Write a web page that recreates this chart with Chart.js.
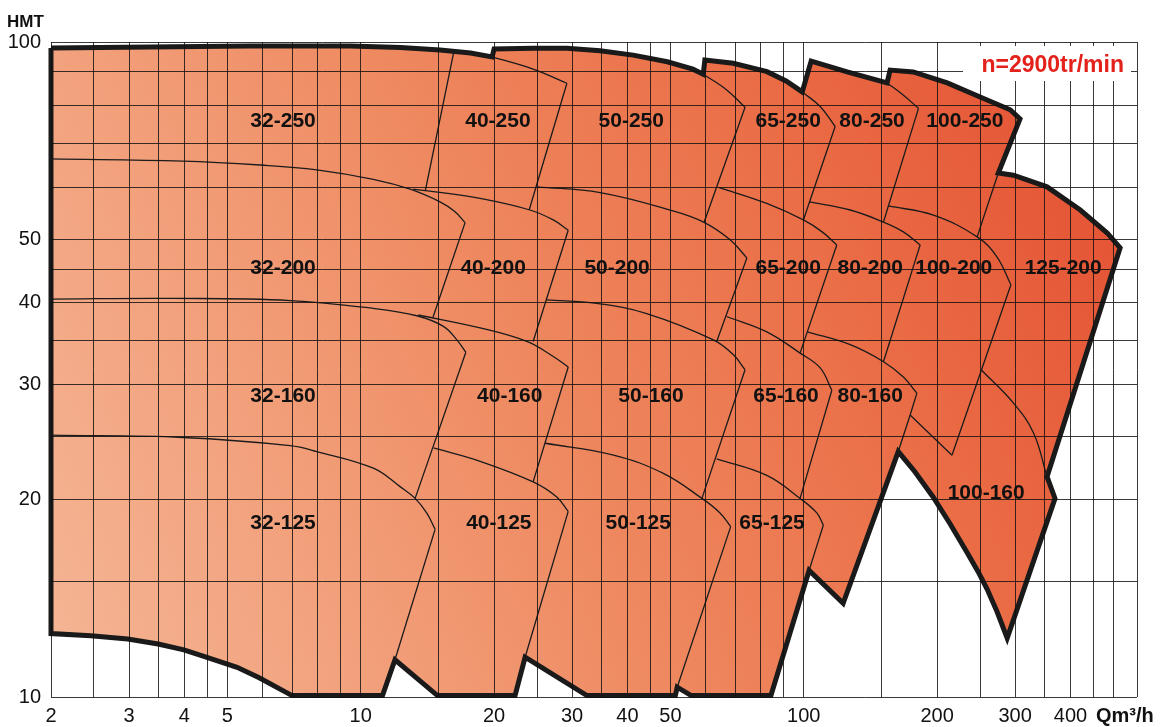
<!DOCTYPE html>
<html>
<head>
<meta charset="utf-8">
<script src="https://cdn.jsdelivr.net/npm/chart.js@4/dist/chart.umd.min.js"></script>
<style>
  html, body { margin: 0; padding: 0; background: #fff; }
  #wrap { width: 1161px; height: 727px; position: relative; }
</style>
</head>
<body>
<div id="wrap"><canvas id="myChart"></canvas></div>
<script>
// axes
var xGrid = [2, 2.5, 3, 3.5, 4, 4.5, 5, 6, 7, 8, 9, 10, 15, 20, 25, 30, 35, 40, 45, 50, 60, 70, 80, 90, 100, 150, 200, 250, 300, 350, 400, 450, 500];
var xLabels = [2, 3, 4, 5, 10, 20, 30, 40, 50, 100, 200, 300, 400];
var yGrid = [10, 15, 20, 25, 30, 35, 40, 45, 50, 60, 70, 80, 90, 100];
var yLabels = [10, 20, 30, 40, 50, 100];
var xMin = 2, xMax = 565, yMin = 10, yMax = 100;

// outer envelope of the whole range, [Q m3/h, HMT]
var envelope = [
  [2, 97.9], [3.35, 98.3], [5.62, 98.6], [9.46, 98.6], [12.3, 98.1], [15.1, 97.2], [17.7, 96.2], [19.8, 94.9],
  [20.0, 97.6], [24.5, 97.8], [29.2, 97.8], [34.7, 97.0], [41.2, 95.5], [49.2, 93.3], [56.2, 90.9], [59.3, 89.3],
  [59.8, 93.9], [69.3, 92.8], [82.6, 90.1], [91.2, 87.2], [99.2, 83.9],
  [103.9, 93.5], [125.3, 90.0], [154.2, 86.6],
  [156.6, 90.6], [176.6, 90.0], [210.8, 86.6], [250, 82.4], [292.4, 78.8], [307.6, 76.3],
  [274.8, 63.1], [297.2, 62.6], [354, 60.1], [420.8, 55.4], [484, 51.1], [517.6, 48.5],
  [354, 21.7], [369, 20.1], [287.8, 12.3], [273.2, 13.48], [259.4, 14.6], [247.6, 15.52], [233.8, 16.6],
  [214, 18.37], [195.8, 20.2], [178.3, 22.06], [163.4, 23.7],
  [122.7, 13.9], [102.8, 15.6], [84.3, 10.05], [55.7, 10.05], [51.8, 10.35], [51.3, 10.05],
  [32.4, 10.05], [23.5, 11.5], [22.3, 10.05], [14.9, 10.05], [11.95, 11.4], [11.2, 10.05], [7.0, 10.05],
  [5.9, 10.7], [5.26, 11.1], [4.48, 11.5], [3.99, 11.8], [3.49, 12.05], [2.98, 12.26], [2.46, 12.4], [2, 12.5],
  [2, 97.9]
];

// pump curves (max impeller), [Q, HMT]
var c32_200 = [[2, 66.3], [3.97, 65.8], [5.93, 64.9], [7.96, 63.8], [10.68, 61.7], [12.93, 59.6], [15.1, 57.0], [16.3, 55.1], [17.2, 53.0]];
var c32_160 = [[2, 40.5], [3.77, 40.6], [6.93, 40.3], [10.68, 39.2], [13.38, 38.2], [15.37, 36.8], [16.48, 35.1], [17.27, 33.6]];
var c32_125 = [[2, 25.1], [3.97, 24.9], [6.93, 24.2], [7.96, 23.7], [10.68, 22.35], [12.27, 20.95], [13.27, 20.1], [14.1, 19.08], [14.72, 18.03]];
var c40_250 = [[19.8, 94.9], [24.5, 90.9], [29.2, 86.5]];
var c40_200 = [[13.13, 59.6], [14.6, 59.1], [18.6, 57.7], [24.1, 55.4], [27.2, 53.5], [29.4, 51.6]];
var c40_160 = [[13.49, 38.3], [18.6, 36.6], [23.7, 34.9], [27.2, 33.1], [29.4, 31.9]];
var c40_125 = [[14.6, 24.0], [18.6, 22.9], [24.5, 21.3], [27.7, 20.2], [29.4, 19.2]];
var c50_250 = [[59.3, 89.3], [67.0, 84.5], [73.7, 79.5]];
var c50_200 = [[25.0, 60.1], [34.7, 58.9], [49.9, 55.4], [59.4, 53.1], [68.2, 49.9], [74.4, 46.8]];
var c50_160 = [[26.3, 40.4], [34.1, 39.9], [44.2, 38.5], [62.5, 35.1], [69.4, 33.3], [73.7, 31.6]];
var c50_125 = [[26.1, 24.4], [37.2, 23.4], [48.2, 21.95], [58.9, 20.1], [64.7, 19.1], [68.4, 18.2]];
var c65_250 = [[99.2, 83.9], [108.9, 79.7], [117.7, 74.3]];
var c65_200 = [[64.2, 60.0], [82.5, 56.7], [99.8, 53.5], [110, 51.3], [118.7, 49.0]];
var c65_160 = [[67.0, 38.1], [82.5, 36.1], [98.1, 33.5], [108.9, 31.8], [115.7, 29.4]];
var c65_125 = [[63.6, 23.1], [82.5, 21.8], [98.1, 20.1], [107, 19.1], [110.7, 18.3]];
var c80_250 = [[154.2, 86.6], [167.6, 83.0], [181.5, 79.2]];
var c80_200 = [[103.1, 57.0], [127.3, 55.4], [151.3, 53.1], [167.8, 51.3], [183.1, 49.0]];
var c80_160 = [[101.9, 36.1], [127.3, 34.5], [151.3, 32.5], [167.8, 30.8], [180.0, 29.1]];
var c100_200 = [[155.2, 56.2], [196.2, 54.4], [246.2, 50.4], [272.8, 47.0], [293.4, 42.6]];
var c100_160 = [[251.4, 31.6], [297.4, 28.1], [330, 25.3], [354, 21.7]];

// straight limit lines (max flow), [[Q1,H1],[Q2,H2]]
var maxFlow = [
  [[16.2, 96.2], [14.0, 59.4]],
  [[17.2, 53.0], [14.56, 38.0]],
  [[17.27, 33.6], [13.27, 20.1]],
  [[14.72, 18.03], [11.95, 11.4]],
  [[29.2, 86.5], [24.0, 55.4]],
  [[29.4, 51.6], [24.5, 34.9]],
  [[29.4, 31.9], [24.5, 21.3]],
  [[29.4, 19.2], [23.5, 11.5]],
  [[73.7, 79.5], [59.6, 53.1]],
  [[74.4, 46.8], [63.6, 34.9]],
  [[73.7, 31.6], [58.9, 20.1]],
  [[68.4, 18.2], [51.8, 10.35]],
  [[117.7, 74.3], [99.8, 53.5]],
  [[118.7, 49.0], [98.1, 33.5]],
  [[115.7, 29.4], [98.1, 20.1]],
  [[110.7, 18.3], [102.8, 15.6]],
  [[181.5, 79.2], [151.3, 53.1]],
  [[183.1, 49.0], [151.3, 32.5]],
  [[180.0, 29.1], [173.8, 26.95], [163.4, 23.7]],
  [[274.8, 63.1], [246.2, 50.4]],
  [[293.4, 42.6], [216, 23.4]],
  [[173.8, 26.95], [216, 23.4]]
];

// model names and where they sit
var models = ['32-250', '40-250', '50-250', '65-250', '80-250', '100-250',
  '32-200', '40-200', '50-200', '65-200', '80-200', '100-200', '125-200',
  '32-160', '40-160', '50-160', '65-160', '80-160', '100-160',
  '32-125', '40-125', '50-125', '65-125'];
var labelQ = [6.68, 20.4, 40.8, 92.2, 142.6, 231,
  6.68, 19.9, 37.9, 92.2, 141.2, 218, 385,
  6.68, 21.7, 45.2, 91.2, 141.2, 258,
  6.68, 20.5, 42.3, 84.8];
var labelH = [75.8, 75.8, 75.8, 75.8, 75.8, 75.8,
  45.2, 45.2, 45.2, 45.2, 45.2, 45.2, 45.2,
  28.8, 28.8, 28.8, 28.8, 28.8, 20.5,
  18.4, 18.4, 18.4, 18.4];

var font = '"Liberation Sans", Arial, Helvetica, sans-serif';
var lineColor = '#1b1b1b';
var gridColor = 'rgba(15,15,15,0.82)';

function pts(a) {
  return a.map(function (p) { return {x: p[0], y: p[1]}; });
}

function fillGradient(context) {
  var chart = context.chart;
  var area = chart.chartArea;
  if (!area) return '#ee855c';
  var h = area.bottom - area.top;
  var g = chart.ctx.createLinearGradient(area.left, area.bottom, area.right, area.top + 0.24 * h);
  g.addColorStop(0, '#f5b696');
  g.addColorStop(0.25, '#f2a07b');
  g.addColorStop(0.5, '#ee865d');
  g.addColorStop(0.75, '#ea6d46');
  g.addColorStop(1, '#e45233');
  return g;
}

var datasets = [];

datasets.push({
  data: pts(envelope),
  showLine: true,
  fill: 'shape',
  backgroundColor: fillGradient,
  borderWidth: 0,
  borderColor: 'rgba(0,0,0,0)',
  pointRadius: 0,
  order: 10
});

[c32_200, c32_160, c32_125, c40_250, c40_200, c40_160, c40_125,
 c50_250, c50_200, c50_160, c50_125, c65_250, c65_200, c65_160, c65_125,
 c80_250, c80_200, c80_160, c100_200, c100_160].forEach(function (c) {
  datasets.push({
    data: pts(c),
    showLine: true,
    fill: false,
    borderColor: lineColor,
    borderWidth: 1.3,
    tension: 0.4,
    pointRadius: 0,
    order: 1
  });
});

maxFlow.forEach(function (c) {
  datasets.push({
    data: pts(c),
    showLine: true,
    fill: false,
    borderColor: lineColor,
    borderWidth: 1.3,
    tension: 0,
    pointRadius: 0,
    order: 1
  });
});

datasets.push({
  data: pts(envelope),
  showLine: true,
  fill: false,
  borderColor: '#1a1a1a',
  borderWidth: 5,
  borderJoinStyle: 'miter',
  tension: 0,
  pointRadius: 0,
  clip: false,
  order: -1
});

var textPlugin = {
  id: 'texts',
  afterDraw: function (chart) {
    var c = chart.ctx;
    var xs = chart.scales.x, ys = chart.scales.y;
    c.save();
    c.fillStyle = '#111';
    c.font = 'bold 21px ' + font;
    c.textAlign = 'center';
    c.textBaseline = 'middle';
    models.forEach(function (m, i) {
      c.fillText(m, xs.getPixelForValue(labelQ[i]), ys.getPixelForValue(labelH[i]));
    });

    c.textAlign = 'left';
    c.textBaseline = 'alphabetic';
    c.font = 'bold 17px ' + font;
    c.fillText('HMT', 7, 27);
    c.font = 'bold 20px ' + font;
    c.fillText('Qm³/h', 1096, 722);

    // speed note
    var a = chart.chartArea;
    c.fillStyle = '#fff';
    c.fillRect(a.right - 174, a.top + 4, 168, 35);
    c.fillStyle = '#e3231b';
    c.font = 'bold 23px ' + font;
    c.textAlign = 'right';
    c.fillText('n=2900tr/min', a.right - 13, a.top + 30);
    c.restore();
  }
};

var ctx = document.getElementById('myChart');

var myChart = new Chart(ctx, {
  type: 'scatter',
  data: { datasets: datasets },
  options: {
    responsive: true,
    maintainAspectRatio: false,
    animation: false,
    layout: { padding: { top: 42, right: 24, left: 0, bottom: 0 } },
    plugins: {
      legend: { display: false },
      tooltip: { enabled: false }
    },
    scales: {
      x: {
        type: 'logarithmic',
        min: xMin,
        max: xMax,
        bounds: 'data',
        afterBuildTicks: function (scale) {
          scale.ticks = xGrid.concat([xMax]).map(function (v) { return {value: v}; });
        },
        afterFit: function (scale) { scale.height = 30; },
        grid: { color: gridColor, lineWidth: 1, drawTicks: false, z: 1 },
        border: { display: false },
        ticks: {
          autoSkip: false,
          maxRotation: 0,
          padding: 7,
          color: '#111',
          font: { family: font, size: 20 },
          callback: function (v) { return xLabels.indexOf(v) >= 0 ? String(v) : ''; }
        }
      },
      y: {
        type: 'logarithmic',
        min: yMin,
        max: yMax,
        bounds: 'data',
        afterBuildTicks: function (scale) {
          scale.ticks = yGrid.map(function (v) { return {value: v}; });
        },
        afterFit: function (scale) { scale.width = 51; },
        grid: { color: gridColor, lineWidth: 1, drawTicks: false, z: 1 },
        border: { display: false },
        ticks: {
          autoSkip: false,
          padding: 10,
          color: '#111',
          font: { family: font, size: 20 },
          callback: function (v) { return yLabels.indexOf(v) >= 0 ? String(v) : ''; }
        }
      }
    }
  },
  plugins: [textPlugin]
});
</script>
</body>
</html>
